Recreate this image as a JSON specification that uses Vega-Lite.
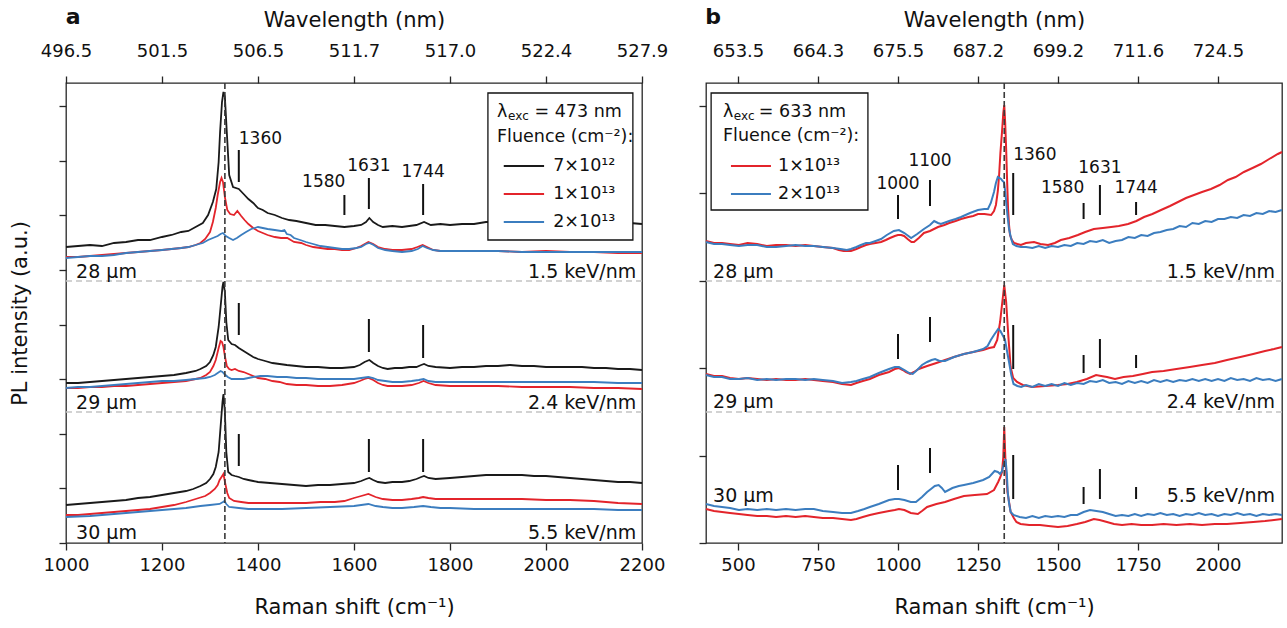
{
"$schema": "https://vega.github.io/schema/vega-lite/v6.json",
"padding": {"left": 8, "top": 5, "right": 6, "bottom": 5},
"background": "white",
"config": {
  "font": "'DejaVu Sans', sans-serif",
  "view": {"stroke": "#262626", "strokeWidth": 1.3},
  "axis": {"domain": false, "grid": false, "labelFlush": false, "labelOverlap": false, "tickColor": "#262626", "tickWidth": 1.3, "tickSize": 7, "labelFontSize": 18, "labelColor": "#111111", "titleFontSize": 21, "titleFontWeight": "normal", "titleColor": "#111111"}
},
"spacing": 64,
"bounds": "flush",
"datasets": {
"specA": [
{"c":"k","s":28,"x":1000,"y":296},{"c":"k","s":28,"x":1025,"y":297},{"c":"k","s":28,"x":1050,"y":298},{"c":"k","s":28,"x":1075,"y":297},{"c":"k","s":28,"x":1100,"y":300},{"c":"k","s":28,"x":1125,"y":301},{"c":"k","s":28,"x":1150,"y":303},{"c":"k","s":28,"x":1175,"y":303},{"c":"k","s":28,"x":1200,"y":306},{"c":"k","s":28,"x":1220,"y":308},{"c":"k","s":28,"x":1240,"y":311},{"c":"k","s":28,"x":1255,"y":312},{"c":"k","s":28,"x":1270,"y":316},{"c":"k","s":28,"x":1285,"y":320},{"c":"k","s":28,"x":1296,"y":328},{"c":"k","s":28,"x":1306,"y":341},{"c":"k","s":28,"x":1313,"y":354},{"c":"k","s":28,"x":1318,"y":381},{"c":"k","s":28,"x":1321,"y":411},{"c":"k","s":28,"x":1325,"y":441},{"c":"k","s":28,"x":1328,"y":451},{"c":"k","s":28,"x":1331,"y":446},{"c":"k","s":28,"x":1335,"y":411},{"c":"k","s":28,"x":1340,"y":368},{"c":"k","s":28,"x":1348,"y":356},{"c":"k","s":28,"x":1360,"y":354},{"c":"k","s":28,"x":1370,"y":349},{"c":"k","s":28,"x":1380,"y":344},{"c":"k","s":28,"x":1390,"y":340},{"c":"k","s":28,"x":1400,"y":335},{"c":"k","s":28,"x":1410,"y":333},{"c":"k","s":28,"x":1420,"y":330},{"c":"k","s":28,"x":1435,"y":328},{"c":"k","s":28,"x":1450,"y":325},{"c":"k","s":28,"x":1465,"y":323},{"c":"k","s":28,"x":1480,"y":322},{"c":"k","s":28,"x":1500,"y":320},{"c":"k","s":28,"x":1520,"y":318},{"c":"k","s":28,"x":1540,"y":318},{"c":"k","s":28,"x":1560,"y":317},{"c":"k","s":28,"x":1580,"y":316},{"c":"k","s":28,"x":1600,"y":317},{"c":"k","s":28,"x":1615,"y":318},{"c":"k","s":28,"x":1625,"y":321},{"c":"k","s":28,"x":1632,"y":325},{"c":"k","s":28,"x":1640,"y":321},{"c":"k","s":28,"x":1650,"y":318},{"c":"k","s":28,"x":1660,"y":316},{"c":"k","s":28,"x":1680,"y":317},{"c":"k","s":28,"x":1700,"y":316},{"c":"k","s":28,"x":1715,"y":317},{"c":"k","s":28,"x":1730,"y":318},{"c":"k","s":28,"x":1746,"y":321},{"c":"k","s":28,"x":1760,"y":318},{"c":"k","s":28,"x":1780,"y":319},{"c":"k","s":28,"x":1800,"y":318},{"c":"k","s":28,"x":1825,"y":319},{"c":"k","s":28,"x":1850,"y":319},{"c":"k","s":28,"x":1875,"y":321},{"c":"k","s":28,"x":1900,"y":321},{"c":"k","s":28,"x":1925,"y":322},{"c":"k","s":28,"x":1950,"y":322},{"c":"k","s":28,"x":1975,"y":321},{"c":"k","s":28,"x":2000,"y":321},{"c":"k","s":28,"x":2025,"y":320},{"c":"k","s":28,"x":2050,"y":320},{"c":"k","s":28,"x":2075,"y":321},{"c":"k","s":28,"x":2100,"y":320},{"c":"k","s":28,"x":2125,"y":319},{"c":"k","s":28,"x":2150,"y":319},{"c":"k","s":28,"x":2175,"y":320},{"c":"k","s":28,"x":2200,"y":319},
{"c":"k","s":29,"x":1000,"y":160},{"c":"k","s":29,"x":1025,"y":160},{"c":"k","s":29,"x":1050,"y":161},{"c":"k","s":29,"x":1075,"y":162},{"c":"k","s":29,"x":1100,"y":163},{"c":"k","s":29,"x":1125,"y":164},{"c":"k","s":29,"x":1150,"y":165},{"c":"k","s":29,"x":1175,"y":166},{"c":"k","s":29,"x":1200,"y":167},{"c":"k","s":29,"x":1225,"y":168},{"c":"k","s":29,"x":1250,"y":170},{"c":"k","s":29,"x":1270,"y":172},{"c":"k","s":29,"x":1280,"y":174},{"c":"k","s":29,"x":1292,"y":177},{"c":"k","s":29,"x":1300,"y":181},{"c":"k","s":29,"x":1307,"y":188},{"c":"k","s":29,"x":1312,"y":196},{"c":"k","s":29,"x":1318,"y":216},{"c":"k","s":29,"x":1322,"y":236},{"c":"k","s":29,"x":1326,"y":256},{"c":"k","s":29,"x":1328,"y":261},{"c":"k","s":29,"x":1331,"y":251},{"c":"k","s":29,"x":1334,"y":221},{"c":"k","s":29,"x":1338,"y":203},{"c":"k","s":29,"x":1345,"y":199},{"c":"k","s":29,"x":1352,"y":198},{"c":"k","s":29,"x":1360,"y":195},{"c":"k","s":29,"x":1370,"y":192},{"c":"k","s":29,"x":1380,"y":189},{"c":"k","s":29,"x":1390,"y":186},{"c":"k","s":29,"x":1400,"y":184},{"c":"k","s":29,"x":1415,"y":182},{"c":"k","s":29,"x":1430,"y":180},{"c":"k","s":29,"x":1445,"y":179},{"c":"k","s":29,"x":1460,"y":178},{"c":"k","s":29,"x":1480,"y":177},{"c":"k","s":29,"x":1500,"y":176},{"c":"k","s":29,"x":1525,"y":176},{"c":"k","s":29,"x":1550,"y":175},{"c":"k","s":29,"x":1575,"y":175},{"c":"k","s":29,"x":1600,"y":176},{"c":"k","s":29,"x":1612,"y":178},{"c":"k","s":29,"x":1622,"y":181},{"c":"k","s":29,"x":1632,"y":183},{"c":"k","s":29,"x":1640,"y":180},{"c":"k","s":29,"x":1650,"y":177},{"c":"k","s":29,"x":1660,"y":175},{"c":"k","s":29,"x":1670,"y":174},{"c":"k","s":29,"x":1685,"y":175},{"c":"k","s":29,"x":1700,"y":175},{"c":"k","s":29,"x":1715,"y":176},{"c":"k","s":29,"x":1730,"y":176},{"c":"k","s":29,"x":1740,"y":178},{"c":"k","s":29,"x":1746,"y":179},{"c":"k","s":29,"x":1755,"y":177},{"c":"k","s":29,"x":1770,"y":176},{"c":"k","s":29,"x":1800,"y":175},{"c":"k","s":29,"x":1825,"y":176},{"c":"k","s":29,"x":1850,"y":176},{"c":"k","s":29,"x":1875,"y":177},{"c":"k","s":29,"x":1900,"y":177},{"c":"k","s":29,"x":1925,"y":178},{"c":"k","s":29,"x":1950,"y":177},{"c":"k","s":29,"x":1975,"y":177},{"c":"k","s":29,"x":2000,"y":176},{"c":"k","s":29,"x":2025,"y":176},{"c":"k","s":29,"x":2050,"y":176},{"c":"k","s":29,"x":2075,"y":176},{"c":"k","s":29,"x":2100,"y":175},{"c":"k","s":29,"x":2125,"y":175},{"c":"k","s":29,"x":2150,"y":174},{"c":"k","s":29,"x":2175,"y":174},{"c":"k","s":29,"x":2200,"y":173},
{"c":"k","s":30,"x":1000,"y":38},{"c":"k","s":30,"x":1025,"y":39},{"c":"k","s":30,"x":1050,"y":40},{"c":"k","s":30,"x":1075,"y":41},{"c":"k","s":30,"x":1100,"y":42},{"c":"k","s":30,"x":1125,"y":43},{"c":"k","s":30,"x":1150,"y":45},{"c":"k","s":30,"x":1175,"y":46},{"c":"k","s":30,"x":1200,"y":48},{"c":"k","s":30,"x":1225,"y":50},{"c":"k","s":30,"x":1250,"y":52},{"c":"k","s":30,"x":1265,"y":54},{"c":"k","s":30,"x":1280,"y":57},{"c":"k","s":30,"x":1292,"y":60},{"c":"k","s":30,"x":1300,"y":64},{"c":"k","s":30,"x":1307,"y":69},{"c":"k","s":30,"x":1312,"y":76},{"c":"k","s":30,"x":1318,"y":91},{"c":"k","s":30,"x":1322,"y":116},{"c":"k","s":30,"x":1326,"y":141},{"c":"k","s":30,"x":1328,"y":149},{"c":"k","s":30,"x":1331,"y":131},{"c":"k","s":30,"x":1334,"y":91},{"c":"k","s":30,"x":1338,"y":71},{"c":"k","s":30,"x":1345,"y":68},{"c":"k","s":30,"x":1352,"y":67},{"c":"k","s":30,"x":1360,"y":66},{"c":"k","s":30,"x":1370,"y":64},{"c":"k","s":30,"x":1380,"y":63},{"c":"k","s":30,"x":1390,"y":62},{"c":"k","s":30,"x":1400,"y":61},{"c":"k","s":30,"x":1425,"y":60},{"c":"k","s":30,"x":1450,"y":59},{"c":"k","s":30,"x":1475,"y":58},{"c":"k","s":30,"x":1500,"y":57},{"c":"k","s":30,"x":1525,"y":58},{"c":"k","s":30,"x":1550,"y":58},{"c":"k","s":30,"x":1575,"y":59},{"c":"k","s":30,"x":1600,"y":60},{"c":"k","s":30,"x":1615,"y":62},{"c":"k","s":30,"x":1625,"y":64},{"c":"k","s":30,"x":1632,"y":65},{"c":"k","s":30,"x":1640,"y":63},{"c":"k","s":30,"x":1650,"y":61},{"c":"k","s":30,"x":1665,"y":60},{"c":"k","s":30,"x":1680,"y":61},{"c":"k","s":30,"x":1700,"y":61},{"c":"k","s":30,"x":1715,"y":62},{"c":"k","s":30,"x":1730,"y":64},{"c":"k","s":30,"x":1740,"y":66},{"c":"k","s":30,"x":1746,"y":67},{"c":"k","s":30,"x":1755,"y":65},{"c":"k","s":30,"x":1770,"y":64},{"c":"k","s":30,"x":1800,"y":65},{"c":"k","s":30,"x":1825,"y":66},{"c":"k","s":30,"x":1850,"y":67},{"c":"k","s":30,"x":1875,"y":68},{"c":"k","s":30,"x":1900,"y":68},{"c":"k","s":30,"x":1925,"y":68},{"c":"k","s":30,"x":1950,"y":68},{"c":"k","s":30,"x":1975,"y":67},{"c":"k","s":30,"x":2000,"y":67},{"c":"k","s":30,"x":2025,"y":66},{"c":"k","s":30,"x":2050,"y":65},{"c":"k","s":30,"x":2075,"y":64},{"c":"k","s":30,"x":2100,"y":63},{"c":"k","s":30,"x":2125,"y":62},{"c":"k","s":30,"x":2150,"y":61},{"c":"k","s":30,"x":2175,"y":61},{"c":"k","s":30,"x":2200,"y":60},
{"c":"r","s":28,"x":1000,"y":286},{"c":"r","s":28,"x":1025,"y":286},{"c":"r","s":28,"x":1050,"y":287},{"c":"r","s":28,"x":1075,"y":288},{"c":"r","s":28,"x":1100,"y":289},{"c":"r","s":28,"x":1125,"y":290},{"c":"r","s":28,"x":1150,"y":291},{"c":"r","s":28,"x":1175,"y":292},{"c":"r","s":28,"x":1200,"y":293},{"c":"r","s":28,"x":1220,"y":294},{"c":"r","s":28,"x":1240,"y":295},{"c":"r","s":28,"x":1255,"y":296},{"c":"r","s":28,"x":1270,"y":298},{"c":"r","s":28,"x":1280,"y":300},{"c":"r","s":28,"x":1290,"y":304},{"c":"r","s":28,"x":1300,"y":311},{"c":"r","s":28,"x":1306,"y":321},{"c":"r","s":28,"x":1312,"y":335},{"c":"r","s":28,"x":1316,"y":348},{"c":"r","s":28,"x":1321,"y":361},{"c":"r","s":28,"x":1324,"y":365},{"c":"r","s":28,"x":1327,"y":361},{"c":"r","s":28,"x":1331,"y":346},{"c":"r","s":28,"x":1336,"y":333},{"c":"r","s":28,"x":1342,"y":329},{"c":"r","s":28,"x":1350,"y":328},{"c":"r","s":28,"x":1357,"y":332},{"c":"r","s":28,"x":1365,"y":327},{"c":"r","s":28,"x":1372,"y":323},{"c":"r","s":28,"x":1380,"y":319},{"c":"r","s":28,"x":1390,"y":315},{"c":"r","s":28,"x":1400,"y":312},{"c":"r","s":28,"x":1410,"y":310},{"c":"r","s":28,"x":1420,"y":308},{"c":"r","s":28,"x":1435,"y":306},{"c":"r","s":28,"x":1448,"y":305},{"c":"r","s":28,"x":1461,"y":305},{"c":"r","s":28,"x":1475,"y":301},{"c":"r","s":28,"x":1490,"y":300},{"c":"r","s":28,"x":1500,"y":298},{"c":"r","s":28,"x":1515,"y":296},{"c":"r","s":28,"x":1530,"y":295},{"c":"r","s":28,"x":1545,"y":294},{"c":"r","s":28,"x":1560,"y":294},{"c":"r","s":28,"x":1575,"y":293},{"c":"r","s":28,"x":1590,"y":293},{"c":"r","s":28,"x":1605,"y":295},{"c":"r","s":28,"x":1615,"y":297},{"c":"r","s":28,"x":1630,"y":301},{"c":"r","s":28,"x":1640,"y":299},{"c":"r","s":28,"x":1650,"y":296},{"c":"r","s":28,"x":1665,"y":294},{"c":"r","s":28,"x":1680,"y":293},{"c":"r","s":28,"x":1700,"y":293},{"c":"r","s":28,"x":1720,"y":294},{"c":"r","s":28,"x":1732,"y":296},{"c":"r","s":28,"x":1743,"y":298},{"c":"r","s":28,"x":1752,"y":296},{"c":"r","s":28,"x":1765,"y":293},{"c":"r","s":28,"x":1780,"y":292},{"c":"r","s":28,"x":1800,"y":292},{"c":"r","s":28,"x":1850,"y":292},{"c":"r","s":28,"x":1900,"y":292},{"c":"r","s":28,"x":1950,"y":291},{"c":"r","s":28,"x":2000,"y":292},{"c":"r","s":28,"x":2050,"y":291},{"c":"r","s":28,"x":2100,"y":291},{"c":"r","s":28,"x":2150,"y":290},{"c":"r","s":28,"x":2200,"y":290},
{"c":"r","s":29,"x":1000,"y":155},{"c":"r","s":29,"x":1025,"y":155},{"c":"r","s":29,"x":1050,"y":156},{"c":"r","s":29,"x":1075,"y":156},{"c":"r","s":29,"x":1100,"y":157},{"c":"r","s":29,"x":1125,"y":157},{"c":"r","s":29,"x":1150,"y":158},{"c":"r","s":29,"x":1175,"y":159},{"c":"r","s":29,"x":1200,"y":160},{"c":"r","s":29,"x":1225,"y":161},{"c":"r","s":29,"x":1250,"y":162},{"c":"r","s":29,"x":1270,"y":164},{"c":"r","s":29,"x":1280,"y":165},{"c":"r","s":29,"x":1292,"y":168},{"c":"r","s":29,"x":1300,"y":171},{"c":"r","s":29,"x":1307,"y":177},{"c":"r","s":29,"x":1312,"y":183},{"c":"r","s":29,"x":1318,"y":195},{"c":"r","s":29,"x":1322,"y":202},{"c":"r","s":29,"x":1325,"y":201},{"c":"r","s":29,"x":1328,"y":196},{"c":"r","s":29,"x":1331,"y":187},{"c":"r","s":29,"x":1335,"y":177},{"c":"r","s":29,"x":1340,"y":174},{"c":"r","s":29,"x":1345,"y":173},{"c":"r","s":29,"x":1352,"y":174},{"c":"r","s":29,"x":1360,"y":172},{"c":"r","s":29,"x":1370,"y":171},{"c":"r","s":29,"x":1380,"y":169},{"c":"r","s":29,"x":1390,"y":167},{"c":"r","s":29,"x":1400,"y":165},{"c":"r","s":29,"x":1415,"y":164},{"c":"r","s":29,"x":1430,"y":162},{"c":"r","s":29,"x":1445,"y":161},{"c":"r","s":29,"x":1460,"y":159},{"c":"r","s":29,"x":1480,"y":158},{"c":"r","s":29,"x":1500,"y":158},{"c":"r","s":29,"x":1525,"y":157},{"c":"r","s":29,"x":1550,"y":157},{"c":"r","s":29,"x":1575,"y":158},{"c":"r","s":29,"x":1600,"y":160},{"c":"r","s":29,"x":1612,"y":162},{"c":"r","s":29,"x":1622,"y":164},{"c":"r","s":29,"x":1630,"y":165},{"c":"r","s":29,"x":1640,"y":163},{"c":"r","s":29,"x":1650,"y":160},{"c":"r","s":29,"x":1660,"y":158},{"c":"r","s":29,"x":1670,"y":157},{"c":"r","s":29,"x":1685,"y":157},{"c":"r","s":29,"x":1700,"y":157},{"c":"r","s":29,"x":1720,"y":158},{"c":"r","s":29,"x":1735,"y":160},{"c":"r","s":29,"x":1745,"y":162},{"c":"r","s":29,"x":1755,"y":160},{"c":"r","s":29,"x":1770,"y":158},{"c":"r","s":29,"x":1800,"y":157},{"c":"r","s":29,"x":1850,"y":157},{"c":"r","s":29,"x":1900,"y":157},{"c":"r","s":29,"x":1950,"y":156},{"c":"r","s":29,"x":2000,"y":156},{"c":"r","s":29,"x":2050,"y":156},{"c":"r","s":29,"x":2100,"y":155},{"c":"r","s":29,"x":2150,"y":155},{"c":"r","s":29,"x":2200,"y":154},
{"c":"r","s":30,"x":1000,"y":28},{"c":"r","s":30,"x":1025,"y":28},{"c":"r","s":30,"x":1050,"y":29},{"c":"r","s":30,"x":1075,"y":30},{"c":"r","s":30,"x":1100,"y":31},{"c":"r","s":30,"x":1125,"y":32},{"c":"r","s":30,"x":1150,"y":33},{"c":"r","s":30,"x":1175,"y":34},{"c":"r","s":30,"x":1200,"y":36},{"c":"r","s":30,"x":1225,"y":38},{"c":"r","s":30,"x":1250,"y":41},{"c":"r","s":30,"x":1270,"y":44},{"c":"r","s":30,"x":1290,"y":47},{"c":"r","s":30,"x":1300,"y":50},{"c":"r","s":30,"x":1310,"y":54},{"c":"r","s":30,"x":1316,"y":58},{"c":"r","s":30,"x":1320,"y":63},{"c":"r","s":30,"x":1324,"y":66},{"c":"r","s":30,"x":1328,"y":69},{"c":"r","s":30,"x":1332,"y":59},{"c":"r","s":30,"x":1336,"y":50},{"c":"r","s":30,"x":1340,"y":45},{"c":"r","s":30,"x":1350,"y":42},{"c":"r","s":30,"x":1365,"y":41},{"c":"r","s":30,"x":1380,"y":40},{"c":"r","s":30,"x":1400,"y":40},{"c":"r","s":30,"x":1425,"y":40},{"c":"r","s":30,"x":1450,"y":40},{"c":"r","s":30,"x":1475,"y":40},{"c":"r","s":30,"x":1500,"y":40},{"c":"r","s":30,"x":1530,"y":41},{"c":"r","s":30,"x":1560,"y":41},{"c":"r","s":30,"x":1580,"y":42},{"c":"r","s":30,"x":1600,"y":45},{"c":"r","s":30,"x":1615,"y":47},{"c":"r","s":30,"x":1630,"y":49},{"c":"r","s":30,"x":1645,"y":46},{"c":"r","s":30,"x":1660,"y":44},{"c":"r","s":30,"x":1680,"y":43},{"c":"r","s":30,"x":1700,"y":43},{"c":"r","s":30,"x":1720,"y":44},{"c":"r","s":30,"x":1735,"y":45},{"c":"r","s":30,"x":1744,"y":46},{"c":"r","s":30,"x":1755,"y":45},{"c":"r","s":30,"x":1770,"y":44},{"c":"r","s":30,"x":1800,"y":44},{"c":"r","s":30,"x":1850,"y":44},{"c":"r","s":30,"x":1900,"y":44},{"c":"r","s":30,"x":1950,"y":44},{"c":"r","s":30,"x":2000,"y":43},{"c":"r","s":30,"x":2050,"y":43},{"c":"r","s":30,"x":2100,"y":42},{"c":"r","s":30,"x":2150,"y":40},{"c":"r","s":30,"x":2200,"y":39},
{"c":"b","s":28,"x":1000,"y":285},{"c":"b","s":28,"x":1025,"y":286},{"c":"b","s":28,"x":1050,"y":287},{"c":"b","s":28,"x":1075,"y":287},{"c":"b","s":28,"x":1100,"y":288},{"c":"b","s":28,"x":1125,"y":290},{"c":"b","s":28,"x":1150,"y":291},{"c":"b","s":28,"x":1175,"y":292},{"c":"b","s":28,"x":1200,"y":293},{"c":"b","s":28,"x":1220,"y":294},{"c":"b","s":28,"x":1240,"y":295},{"c":"b","s":28,"x":1255,"y":296},{"c":"b","s":28,"x":1270,"y":298},{"c":"b","s":28,"x":1285,"y":300},{"c":"b","s":28,"x":1296,"y":303},{"c":"b","s":28,"x":1306,"y":305},{"c":"b","s":28,"x":1316,"y":307},{"c":"b","s":28,"x":1322,"y":309},{"c":"b","s":28,"x":1327,"y":310},{"c":"b","s":28,"x":1333,"y":307},{"c":"b","s":28,"x":1340,"y":305},{"c":"b","s":28,"x":1348,"y":303},{"c":"b","s":28,"x":1356,"y":305},{"c":"b","s":28,"x":1365,"y":308},{"c":"b","s":28,"x":1375,"y":311},{"c":"b","s":28,"x":1386,"y":314},{"c":"b","s":28,"x":1393,"y":315},{"c":"b","s":28,"x":1400,"y":316},{"c":"b","s":28,"x":1410,"y":315},{"c":"b","s":28,"x":1420,"y":314},{"c":"b","s":28,"x":1435,"y":313},{"c":"b","s":28,"x":1448,"y":312},{"c":"b","s":28,"x":1455,"y":313},{"c":"b","s":28,"x":1460,"y":309},{"c":"b","s":28,"x":1468,"y":308},{"c":"b","s":28,"x":1475,"y":305},{"c":"b","s":28,"x":1488,"y":303},{"c":"b","s":28,"x":1500,"y":301},{"c":"b","s":28,"x":1515,"y":299},{"c":"b","s":28,"x":1530,"y":297},{"c":"b","s":28,"x":1545,"y":296},{"c":"b","s":28,"x":1560,"y":295},{"c":"b","s":28,"x":1575,"y":294},{"c":"b","s":28,"x":1590,"y":294},{"c":"b","s":28,"x":1605,"y":295},{"c":"b","s":28,"x":1615,"y":296},{"c":"b","s":28,"x":1625,"y":299},{"c":"b","s":28,"x":1632,"y":300},{"c":"b","s":28,"x":1641,"y":298},{"c":"b","s":28,"x":1650,"y":295},{"c":"b","s":28,"x":1665,"y":293},{"c":"b","s":28,"x":1680,"y":292},{"c":"b","s":28,"x":1700,"y":291},{"c":"b","s":28,"x":1720,"y":292},{"c":"b","s":28,"x":1733,"y":294},{"c":"b","s":28,"x":1743,"y":297},{"c":"b","s":28,"x":1752,"y":295},{"c":"b","s":28,"x":1765,"y":293},{"c":"b","s":28,"x":1780,"y":292},{"c":"b","s":28,"x":1800,"y":292},{"c":"b","s":28,"x":1850,"y":292},{"c":"b","s":28,"x":1900,"y":292},{"c":"b","s":28,"x":1950,"y":291},{"c":"b","s":28,"x":2000,"y":291},{"c":"b","s":28,"x":2050,"y":291},{"c":"b","s":28,"x":2100,"y":291},{"c":"b","s":28,"x":2150,"y":291},{"c":"b","s":28,"x":2200,"y":291},
{"c":"b","s":29,"x":1000,"y":155},{"c":"b","s":29,"x":1025,"y":156},{"c":"b","s":29,"x":1050,"y":156},{"c":"b","s":29,"x":1075,"y":157},{"c":"b","s":29,"x":1100,"y":158},{"c":"b","s":29,"x":1125,"y":159},{"c":"b","s":29,"x":1150,"y":160},{"c":"b","s":29,"x":1175,"y":161},{"c":"b","s":29,"x":1200,"y":162},{"c":"b","s":29,"x":1225,"y":162},{"c":"b","s":29,"x":1250,"y":163},{"c":"b","s":29,"x":1270,"y":164},{"c":"b","s":29,"x":1290,"y":165},{"c":"b","s":29,"x":1300,"y":166},{"c":"b","s":29,"x":1310,"y":168},{"c":"b","s":29,"x":1316,"y":170},{"c":"b","s":29,"x":1322,"y":172},{"c":"b","s":29,"x":1326,"y":171},{"c":"b","s":29,"x":1330,"y":169},{"c":"b","s":29,"x":1337,"y":166},{"c":"b","s":29,"x":1345,"y":164},{"c":"b","s":29,"x":1355,"y":164},{"c":"b","s":29,"x":1370,"y":164},{"c":"b","s":29,"x":1380,"y":165},{"c":"b","s":29,"x":1390,"y":166},{"c":"b","s":29,"x":1405,"y":167},{"c":"b","s":29,"x":1420,"y":167},{"c":"b","s":29,"x":1440,"y":166},{"c":"b","s":29,"x":1460,"y":166},{"c":"b","s":29,"x":1480,"y":165},{"c":"b","s":29,"x":1500,"y":165},{"c":"b","s":29,"x":1525,"y":164},{"c":"b","s":29,"x":1550,"y":164},{"c":"b","s":29,"x":1575,"y":164},{"c":"b","s":29,"x":1600,"y":164},{"c":"b","s":29,"x":1615,"y":165},{"c":"b","s":29,"x":1630,"y":166},{"c":"b","s":29,"x":1640,"y":165},{"c":"b","s":29,"x":1650,"y":163},{"c":"b","s":29,"x":1665,"y":162},{"c":"b","s":29,"x":1680,"y":161},{"c":"b","s":29,"x":1700,"y":161},{"c":"b","s":29,"x":1720,"y":162},{"c":"b","s":29,"x":1735,"y":163},{"c":"b","s":29,"x":1745,"y":164},{"c":"b","s":29,"x":1755,"y":162},{"c":"b","s":29,"x":1770,"y":161},{"c":"b","s":29,"x":1800,"y":161},{"c":"b","s":29,"x":1850,"y":161},{"c":"b","s":29,"x":1900,"y":161},{"c":"b","s":29,"x":1950,"y":161},{"c":"b","s":29,"x":2000,"y":161},{"c":"b","s":29,"x":2050,"y":161},{"c":"b","s":29,"x":2100,"y":161},{"c":"b","s":29,"x":2150,"y":160},{"c":"b","s":29,"x":2200,"y":160},
{"c":"b","s":30,"x":1000,"y":26},{"c":"b","s":30,"x":1050,"y":27},{"c":"b","s":30,"x":1100,"y":29},{"c":"b","s":30,"x":1150,"y":31},{"c":"b","s":30,"x":1200,"y":33},{"c":"b","s":30,"x":1250,"y":35},{"c":"b","s":30,"x":1280,"y":37},{"c":"b","s":30,"x":1300,"y":38},{"c":"b","s":30,"x":1320,"y":39},{"c":"b","s":30,"x":1327,"y":41},{"c":"b","s":30,"x":1330,"y":42},{"c":"b","s":30,"x":1334,"y":39},{"c":"b","s":30,"x":1340,"y":36},{"c":"b","s":30,"x":1360,"y":35},{"c":"b","s":30,"x":1380,"y":34},{"c":"b","s":30,"x":1400,"y":34},{"c":"b","s":30,"x":1450,"y":34},{"c":"b","s":30,"x":1500,"y":35},{"c":"b","s":30,"x":1550,"y":36},{"c":"b","s":30,"x":1600,"y":37},{"c":"b","s":30,"x":1615,"y":38},{"c":"b","s":30,"x":1630,"y":39},{"c":"b","s":30,"x":1645,"y":37},{"c":"b","s":30,"x":1660,"y":36},{"c":"b","s":30,"x":1680,"y":35},{"c":"b","s":30,"x":1700,"y":35},{"c":"b","s":30,"x":1725,"y":36},{"c":"b","s":30,"x":1744,"y":37},{"c":"b","s":30,"x":1760,"y":36},{"c":"b","s":30,"x":1780,"y":35},{"c":"b","s":30,"x":1800,"y":35},{"c":"b","s":30,"x":1850,"y":34},{"c":"b","s":30,"x":1900,"y":34},{"c":"b","s":30,"x":1950,"y":34},{"c":"b","s":30,"x":2000,"y":34},{"c":"b","s":30,"x":2050,"y":34},{"c":"b","s":30,"x":2100,"y":34},{"c":"b","s":30,"x":2150,"y":33},{"c":"b","s":30,"x":2200,"y":33}
],
"specB": [
{"c":"r","s":28,"x":400,"y":302},{"c":"r","s":28,"x":425,"y":300},{"c":"r","s":28,"x":450,"y":300},{"c":"r","s":28,"x":475,"y":299},{"c":"r","s":28,"x":503,"y":298},{"c":"r","s":28,"x":530,"y":300},{"c":"r","s":28,"x":560,"y":299},{"c":"r","s":28,"x":590,"y":297},{"c":"r","s":28,"x":619,"y":298},{"c":"r","s":28,"x":650,"y":298},{"c":"r","s":28,"x":680,"y":297},{"c":"r","s":28,"x":710,"y":298},{"c":"r","s":28,"x":737,"y":297},{"c":"r","s":28,"x":765,"y":296},{"c":"r","s":28,"x":797,"y":295},{"c":"r","s":28,"x":815,"y":293},{"c":"r","s":28,"x":830,"y":292},{"c":"r","s":28,"x":853,"y":292},{"c":"r","s":28,"x":870,"y":294},{"c":"r","s":28,"x":884,"y":296},{"c":"r","s":28,"x":900,"y":298},{"c":"r","s":28,"x":912,"y":299},{"c":"r","s":28,"x":930,"y":300},{"c":"r","s":28,"x":947,"y":301},{"c":"r","s":28,"x":962,"y":303},{"c":"r","s":28,"x":975,"y":305},{"c":"r","s":28,"x":990,"y":307},{"c":"r","s":28,"x":1000,"y":308},{"c":"r","s":28,"x":1010,"y":308},{"c":"r","s":28,"x":1019,"y":307},{"c":"r","s":28,"x":1030,"y":304},{"c":"r","s":28,"x":1042,"y":301},{"c":"r","s":28,"x":1050,"y":301},{"c":"r","s":28,"x":1065,"y":305},{"c":"r","s":28,"x":1081,"y":310},{"c":"r","s":28,"x":1100,"y":312},{"c":"r","s":28,"x":1125,"y":316},{"c":"r","s":28,"x":1145,"y":318},{"c":"r","s":28,"x":1160,"y":320},{"c":"r","s":28,"x":1180,"y":322},{"c":"r","s":28,"x":1197,"y":324},{"c":"r","s":28,"x":1220,"y":326},{"c":"r","s":28,"x":1235,"y":327},{"c":"r","s":28,"x":1250,"y":329},{"c":"r","s":28,"x":1270,"y":329},{"c":"r","s":28,"x":1291,"y":328},{"c":"r","s":28,"x":1300,"y":332},{"c":"r","s":28,"x":1306,"y":338},{"c":"r","s":28,"x":1312,"y":352},{"c":"r","s":28,"x":1316,"y":368},{"c":"r","s":28,"x":1320,"y":390},{"c":"r","s":28,"x":1325,"y":411},{"c":"r","s":28,"x":1329,"y":430},{"c":"r","s":28,"x":1332,"y":438},{"c":"r","s":28,"x":1335,"y":420},{"c":"r","s":28,"x":1338,"y":394},{"c":"r","s":28,"x":1341,"y":362},{"c":"r","s":28,"x":1344,"y":334},{"c":"r","s":28,"x":1347,"y":318},{"c":"r","s":28,"x":1350,"y":308},{"c":"r","s":28,"x":1356,"y":303},{"c":"r","s":28,"x":1363,"y":300},{"c":"r","s":28,"x":1373,"y":299},{"c":"r","s":28,"x":1384,"y":298},{"c":"r","s":28,"x":1400,"y":300},{"c":"r","s":28,"x":1425,"y":301},{"c":"r","s":28,"x":1445,"y":299},{"c":"r","s":28,"x":1469,"y":298},{"c":"r","s":28,"x":1490,"y":300},{"c":"r","s":28,"x":1509,"y":303},{"c":"r","s":28,"x":1535,"y":305},{"c":"r","s":28,"x":1562,"y":308},{"c":"r","s":28,"x":1585,"y":311},{"c":"r","s":28,"x":1612,"y":314},{"c":"r","s":28,"x":1640,"y":315},{"c":"r","s":28,"x":1666,"y":316},{"c":"r","s":28,"x":1690,"y":317},{"c":"r","s":28,"x":1719,"y":319},{"c":"r","s":28,"x":1745,"y":322},{"c":"r","s":28,"x":1769,"y":326},{"c":"r","s":28,"x":1795,"y":329},{"c":"r","s":28,"x":1822,"y":333},{"c":"r","s":28,"x":1850,"y":337},{"c":"r","s":28,"x":1875,"y":341},{"c":"r","s":28,"x":1900,"y":345},{"c":"r","s":28,"x":1925,"y":348},{"c":"r","s":28,"x":1950,"y":351},{"c":"r","s":28,"x":1978,"y":354},{"c":"r","s":28,"x":2005,"y":358},{"c":"r","s":28,"x":2031,"y":363},{"c":"r","s":28,"x":2055,"y":366},{"c":"r","s":28,"x":2081,"y":371},{"c":"r","s":28,"x":2108,"y":375},{"c":"r","s":28,"x":2134,"y":379},{"c":"r","s":28,"x":2160,"y":384},{"c":"r","s":28,"x":2187,"y":389},{"c":"r","s":28,"x":2200,"y":391},
{"c":"r","s":29,"x":400,"y":169},{"c":"r","s":29,"x":425,"y":167},{"c":"r","s":29,"x":450,"y":167},{"c":"r","s":29,"x":475,"y":165},{"c":"r","s":29,"x":503,"y":164},{"c":"r","s":29,"x":530,"y":165},{"c":"r","s":29,"x":560,"y":164},{"c":"r","s":29,"x":590,"y":163},{"c":"r","s":29,"x":619,"y":164},{"c":"r","s":29,"x":650,"y":163},{"c":"r","s":29,"x":680,"y":163},{"c":"r","s":29,"x":710,"y":164},{"c":"r","s":29,"x":737,"y":163},{"c":"r","s":29,"x":765,"y":162},{"c":"r","s":29,"x":797,"y":161},{"c":"r","s":29,"x":825,"y":159},{"c":"r","s":29,"x":853,"y":158},{"c":"r","s":29,"x":870,"y":160},{"c":"r","s":29,"x":890,"y":162},{"c":"r","s":29,"x":912,"y":164},{"c":"r","s":29,"x":940,"y":168},{"c":"r","s":29,"x":972,"y":171},{"c":"r","s":29,"x":990,"y":174},{"c":"r","s":29,"x":1003,"y":175},{"c":"r","s":29,"x":1015,"y":173},{"c":"r","s":29,"x":1025,"y":171},{"c":"r","s":29,"x":1038,"y":169},{"c":"r","s":29,"x":1050,"y":171},{"c":"r","s":29,"x":1065,"y":174},{"c":"r","s":29,"x":1091,"y":177},{"c":"r","s":29,"x":1120,"y":180},{"c":"r","s":29,"x":1147,"y":183},{"c":"r","s":29,"x":1175,"y":186},{"c":"r","s":29,"x":1206,"y":189},{"c":"r","s":29,"x":1235,"y":191},{"c":"r","s":29,"x":1266,"y":193},{"c":"r","s":29,"x":1285,"y":195},{"c":"r","s":29,"x":1300,"y":196},{"c":"r","s":29,"x":1310,"y":203},{"c":"r","s":29,"x":1319,"y":221},{"c":"r","s":29,"x":1326,"y":241},{"c":"r","s":29,"x":1332,"y":258},{"c":"r","s":29,"x":1338,"y":241},{"c":"r","s":29,"x":1345,"y":206},{"c":"r","s":29,"x":1352,"y":176},{"c":"r","s":29,"x":1360,"y":165},{"c":"r","s":29,"x":1372,"y":161},{"c":"r","s":29,"x":1390,"y":158},{"c":"r","s":29,"x":1419,"y":156},{"c":"r","s":29,"x":1460,"y":157},{"c":"r","s":29,"x":1500,"y":158},{"c":"r","s":29,"x":1530,"y":159},{"c":"r","s":29,"x":1559,"y":161},{"c":"r","s":29,"x":1590,"y":164},{"c":"r","s":29,"x":1619,"y":168},{"c":"r","s":29,"x":1635,"y":167},{"c":"r","s":29,"x":1653,"y":166},{"c":"r","s":29,"x":1678,"y":164},{"c":"r","s":29,"x":1705,"y":166},{"c":"r","s":29,"x":1734,"y":167},{"c":"r","s":29,"x":1765,"y":169},{"c":"r","s":29,"x":1794,"y":171},{"c":"r","s":29,"x":1830,"y":172},{"c":"r","s":29,"x":1870,"y":174},{"c":"r","s":29,"x":1912,"y":176},{"c":"r","s":29,"x":1950,"y":178},{"c":"r","s":29,"x":1990,"y":180},{"c":"r","s":29,"x":2028,"y":183},{"c":"r","s":29,"x":2070,"y":186},{"c":"r","s":29,"x":2110,"y":189},{"c":"r","s":29,"x":2147,"y":192},{"c":"r","s":29,"x":2175,"y":194},{"c":"r","s":29,"x":2200,"y":196},
{"c":"r","s":30,"x":400,"y":34},{"c":"r","s":30,"x":425,"y":32},{"c":"r","s":30,"x":450,"y":31},{"c":"r","s":30,"x":475,"y":30},{"c":"r","s":30,"x":503,"y":29},{"c":"r","s":30,"x":530,"y":28},{"c":"r","s":30,"x":560,"y":27},{"c":"r","s":30,"x":590,"y":27},{"c":"r","s":30,"x":619,"y":26},{"c":"r","s":30,"x":650,"y":27},{"c":"r","s":30,"x":680,"y":26},{"c":"r","s":30,"x":710,"y":27},{"c":"r","s":30,"x":737,"y":26},{"c":"r","s":30,"x":765,"y":25},{"c":"r","s":30,"x":797,"y":25},{"c":"r","s":30,"x":825,"y":24},{"c":"r","s":30,"x":853,"y":23},{"c":"r","s":30,"x":870,"y":24},{"c":"r","s":30,"x":890,"y":26},{"c":"r","s":30,"x":912,"y":28},{"c":"r","s":30,"x":940,"y":30},{"c":"r","s":30,"x":972,"y":32},{"c":"r","s":30,"x":990,"y":33},{"c":"r","s":30,"x":1003,"y":34},{"c":"r","s":30,"x":1020,"y":33},{"c":"r","s":30,"x":1040,"y":30},{"c":"r","s":30,"x":1062,"y":29},{"c":"r","s":30,"x":1075,"y":32},{"c":"r","s":30,"x":1091,"y":36},{"c":"r","s":30,"x":1120,"y":39},{"c":"r","s":30,"x":1147,"y":41},{"c":"r","s":30,"x":1175,"y":44},{"c":"r","s":30,"x":1206,"y":47},{"c":"r","s":30,"x":1240,"y":48},{"c":"r","s":30,"x":1278,"y":49},{"c":"r","s":30,"x":1300,"y":53},{"c":"r","s":30,"x":1313,"y":61},{"c":"r","s":30,"x":1320,"y":66},{"c":"r","s":30,"x":1325,"y":71},{"c":"r","s":30,"x":1329,"y":86},{"c":"r","s":30,"x":1332,"y":116},{"c":"r","s":30,"x":1336,"y":81},{"c":"r","s":30,"x":1342,"y":51},{"c":"r","s":30,"x":1352,"y":31},{"c":"r","s":30,"x":1362,"y":25},{"c":"r","s":30,"x":1370,"y":21},{"c":"r","s":30,"x":1383,"y":19},{"c":"r","s":30,"x":1410,"y":18},{"c":"r","s":30,"x":1444,"y":18},{"c":"r","s":30,"x":1470,"y":17},{"c":"r","s":30,"x":1500,"y":16},{"c":"r","s":30,"x":1530,"y":17},{"c":"r","s":30,"x":1559,"y":19},{"c":"r","s":30,"x":1585,"y":21},{"c":"r","s":30,"x":1612,"y":24},{"c":"r","s":30,"x":1630,"y":23},{"c":"r","s":30,"x":1653,"y":21},{"c":"r","s":30,"x":1675,"y":19},{"c":"r","s":30,"x":1700,"y":18},{"c":"r","s":30,"x":1730,"y":19},{"c":"r","s":30,"x":1760,"y":18},{"c":"r","s":30,"x":1794,"y":18},{"c":"r","s":30,"x":1830,"y":19},{"c":"r","s":30,"x":1870,"y":18},{"c":"r","s":30,"x":1912,"y":19},{"c":"r","s":30,"x":1950,"y":18},{"c":"r","s":30,"x":1990,"y":19},{"c":"r","s":30,"x":2028,"y":19},{"c":"r","s":30,"x":2070,"y":20},{"c":"r","s":30,"x":2110,"y":21},{"c":"r","s":30,"x":2147,"y":22},{"c":"r","s":30,"x":2175,"y":23},{"c":"r","s":30,"x":2200,"y":24},
{"c":"b","s":28,"x":400,"y":301},{"c":"b","s":28,"x":425,"y":299},{"c":"b","s":28,"x":450,"y":299},{"c":"b","s":28,"x":475,"y":298},{"c":"b","s":28,"x":503,"y":297},{"c":"b","s":28,"x":530,"y":298},{"c":"b","s":28,"x":560,"y":298},{"c":"b","s":28,"x":590,"y":296},{"c":"b","s":28,"x":619,"y":296},{"c":"b","s":28,"x":650,"y":297},{"c":"b","s":28,"x":680,"y":298},{"c":"b","s":28,"x":710,"y":297},{"c":"b","s":28,"x":737,"y":297},{"c":"b","s":28,"x":765,"y":296},{"c":"b","s":28,"x":797,"y":295},{"c":"b","s":28,"x":820,"y":294},{"c":"b","s":28,"x":840,"y":293},{"c":"b","s":28,"x":853,"y":294},{"c":"b","s":28,"x":870,"y":296},{"c":"b","s":28,"x":884,"y":298},{"c":"b","s":28,"x":900,"y":300},{"c":"b","s":28,"x":912,"y":300},{"c":"b","s":28,"x":930,"y":302},{"c":"b","s":28,"x":947,"y":304},{"c":"b","s":28,"x":965,"y":308},{"c":"b","s":28,"x":987,"y":312},{"c":"b","s":28,"x":1003,"y":313},{"c":"b","s":28,"x":1020,"y":310},{"c":"b","s":28,"x":1041,"y":305},{"c":"b","s":28,"x":1060,"y":309},{"c":"b","s":28,"x":1081,"y":314},{"c":"b","s":28,"x":1100,"y":318},{"c":"b","s":28,"x":1113,"y":322},{"c":"b","s":28,"x":1125,"y":320},{"c":"b","s":28,"x":1134,"y":319},{"c":"b","s":28,"x":1160,"y":322},{"c":"b","s":28,"x":1180,"y":324},{"c":"b","s":28,"x":1197,"y":326},{"c":"b","s":28,"x":1225,"y":330},{"c":"b","s":28,"x":1250,"y":333},{"c":"b","s":28,"x":1270,"y":334},{"c":"b","s":28,"x":1281,"y":334},{"c":"b","s":28,"x":1290,"y":340},{"c":"b","s":28,"x":1300,"y":351},{"c":"b","s":28,"x":1306,"y":360},{"c":"b","s":28,"x":1312,"y":366},{"c":"b","s":28,"x":1318,"y":365},{"c":"b","s":28,"x":1322,"y":364},{"c":"b","s":28,"x":1327,"y":362},{"c":"b","s":28,"x":1331,"y":361},{"c":"b","s":28,"x":1335,"y":352},{"c":"b","s":28,"x":1338,"y":341},{"c":"b","s":28,"x":1342,"y":328},{"c":"b","s":28,"x":1347,"y":314},{"c":"b","s":28,"x":1353,"y":305},{"c":"b","s":28,"x":1359,"y":299},{"c":"b","s":28,"x":1370,"y":297},{"c":"b","s":28,"x":1384,"y":296},{"c":"b","s":28,"x":1400,"y":296},{"c":"b","s":28,"x":1420,"y":295},{"c":"b","s":28,"x":1440,"y":297},{"c":"b","s":28,"x":1460,"y":295},{"c":"b","s":28,"x":1480,"y":297},{"c":"b","s":28,"x":1500,"y":296},{"c":"b","s":28,"x":1520,"y":298},{"c":"b","s":28,"x":1540,"y":297},{"c":"b","s":28,"x":1560,"y":300},{"c":"b","s":28,"x":1580,"y":299},{"c":"b","s":28,"x":1600,"y":302},{"c":"b","s":28,"x":1620,"y":301},{"c":"b","s":28,"x":1640,"y":303},{"c":"b","s":28,"x":1660,"y":300},{"c":"b","s":28,"x":1680,"y":302},{"c":"b","s":28,"x":1700,"y":303},{"c":"b","s":28,"x":1720,"y":306},{"c":"b","s":28,"x":1740,"y":305},{"c":"b","s":28,"x":1760,"y":308},{"c":"b","s":28,"x":1780,"y":307},{"c":"b","s":28,"x":1800,"y":310},{"c":"b","s":28,"x":1820,"y":311},{"c":"b","s":28,"x":1840,"y":313},{"c":"b","s":28,"x":1860,"y":314},{"c":"b","s":28,"x":1880,"y":317},{"c":"b","s":28,"x":1900,"y":316},{"c":"b","s":28,"x":1920,"y":320},{"c":"b","s":28,"x":1940,"y":319},{"c":"b","s":28,"x":1960,"y":322},{"c":"b","s":28,"x":1980,"y":321},{"c":"b","s":28,"x":2000,"y":324},{"c":"b","s":28,"x":2020,"y":324},{"c":"b","s":28,"x":2040,"y":326},{"c":"b","s":28,"x":2060,"y":325},{"c":"b","s":28,"x":2080,"y":328},{"c":"b","s":28,"x":2100,"y":327},{"c":"b","s":28,"x":2120,"y":330},{"c":"b","s":28,"x":2140,"y":329},{"c":"b","s":28,"x":2160,"y":332},{"c":"b","s":28,"x":2180,"y":331},{"c":"b","s":28,"x":2200,"y":333},
{"c":"b","s":29,"x":400,"y":168},{"c":"b","s":29,"x":425,"y":166},{"c":"b","s":29,"x":450,"y":166},{"c":"b","s":29,"x":475,"y":164},{"c":"b","s":29,"x":503,"y":164},{"c":"b","s":29,"x":530,"y":165},{"c":"b","s":29,"x":560,"y":163},{"c":"b","s":29,"x":590,"y":164},{"c":"b","s":29,"x":619,"y":163},{"c":"b","s":29,"x":650,"y":164},{"c":"b","s":29,"x":680,"y":164},{"c":"b","s":29,"x":710,"y":163},{"c":"b","s":29,"x":737,"y":164},{"c":"b","s":29,"x":765,"y":163},{"c":"b","s":29,"x":797,"y":162},{"c":"b","s":29,"x":825,"y":160},{"c":"b","s":29,"x":853,"y":161},{"c":"b","s":29,"x":870,"y":162},{"c":"b","s":29,"x":890,"y":164},{"c":"b","s":29,"x":912,"y":166},{"c":"b","s":29,"x":940,"y":170},{"c":"b","s":29,"x":972,"y":174},{"c":"b","s":29,"x":990,"y":176},{"c":"b","s":29,"x":1003,"y":176},{"c":"b","s":29,"x":1020,"y":173},{"c":"b","s":29,"x":1035,"y":170},{"c":"b","s":29,"x":1046,"y":169},{"c":"b","s":29,"x":1060,"y":173},{"c":"b","s":29,"x":1075,"y":178},{"c":"b","s":29,"x":1091,"y":181},{"c":"b","s":29,"x":1105,"y":183},{"c":"b","s":29,"x":1116,"y":184},{"c":"b","s":29,"x":1130,"y":182},{"c":"b","s":29,"x":1147,"y":182},{"c":"b","s":29,"x":1175,"y":186},{"c":"b","s":29,"x":1206,"y":189},{"c":"b","s":29,"x":1235,"y":191},{"c":"b","s":29,"x":1266,"y":194},{"c":"b","s":29,"x":1280,"y":197},{"c":"b","s":29,"x":1290,"y":203},{"c":"b","s":29,"x":1300,"y":208},{"c":"b","s":29,"x":1313,"y":214},{"c":"b","s":29,"x":1320,"y":212},{"c":"b","s":29,"x":1325,"y":209},{"c":"b","s":29,"x":1330,"y":206},{"c":"b","s":29,"x":1334,"y":204},{"c":"b","s":29,"x":1340,"y":193},{"c":"b","s":29,"x":1347,"y":181},{"c":"b","s":29,"x":1354,"y":168},{"c":"b","s":29,"x":1361,"y":159},{"c":"b","s":29,"x":1373,"y":157},{"c":"b","s":29,"x":1385,"y":156},{"c":"b","s":29,"x":1400,"y":158},{"c":"b","s":29,"x":1420,"y":156},{"c":"b","s":29,"x":1440,"y":159},{"c":"b","s":29,"x":1460,"y":157},{"c":"b","s":29,"x":1480,"y":159},{"c":"b","s":29,"x":1500,"y":157},{"c":"b","s":29,"x":1520,"y":160},{"c":"b","s":29,"x":1540,"y":158},{"c":"b","s":29,"x":1560,"y":160},{"c":"b","s":29,"x":1580,"y":159},{"c":"b","s":29,"x":1600,"y":162},{"c":"b","s":29,"x":1620,"y":161},{"c":"b","s":29,"x":1640,"y":163},{"c":"b","s":29,"x":1660,"y":160},{"c":"b","s":29,"x":1680,"y":161},{"c":"b","s":29,"x":1700,"y":159},{"c":"b","s":29,"x":1720,"y":162},{"c":"b","s":29,"x":1740,"y":160},{"c":"b","s":29,"x":1760,"y":162},{"c":"b","s":29,"x":1780,"y":160},{"c":"b","s":29,"x":1800,"y":163},{"c":"b","s":29,"x":1820,"y":161},{"c":"b","s":29,"x":1840,"y":163},{"c":"b","s":29,"x":1860,"y":161},{"c":"b","s":29,"x":1880,"y":163},{"c":"b","s":29,"x":1900,"y":162},{"c":"b","s":29,"x":1920,"y":164},{"c":"b","s":29,"x":1940,"y":162},{"c":"b","s":29,"x":1960,"y":164},{"c":"b","s":29,"x":1980,"y":162},{"c":"b","s":29,"x":2000,"y":164},{"c":"b","s":29,"x":2020,"y":162},{"c":"b","s":29,"x":2040,"y":165},{"c":"b","s":29,"x":2060,"y":163},{"c":"b","s":29,"x":2080,"y":164},{"c":"b","s":29,"x":2100,"y":162},{"c":"b","s":29,"x":2120,"y":165},{"c":"b","s":29,"x":2140,"y":163},{"c":"b","s":29,"x":2160,"y":164},{"c":"b","s":29,"x":2180,"y":162},{"c":"b","s":29,"x":2200,"y":164},
{"c":"b","s":30,"x":400,"y":39},{"c":"b","s":30,"x":425,"y":37},{"c":"b","s":30,"x":450,"y":36},{"c":"b","s":30,"x":475,"y":35},{"c":"b","s":30,"x":503,"y":33},{"c":"b","s":30,"x":530,"y":34},{"c":"b","s":30,"x":560,"y":33},{"c":"b","s":30,"x":590,"y":34},{"c":"b","s":30,"x":619,"y":33},{"c":"b","s":30,"x":650,"y":34},{"c":"b","s":30,"x":680,"y":33},{"c":"b","s":30,"x":710,"y":34},{"c":"b","s":30,"x":737,"y":34},{"c":"b","s":30,"x":765,"y":32},{"c":"b","s":30,"x":797,"y":31},{"c":"b","s":30,"x":825,"y":30},{"c":"b","s":30,"x":853,"y":30},{"c":"b","s":30,"x":875,"y":32},{"c":"b","s":30,"x":895,"y":34},{"c":"b","s":30,"x":912,"y":36},{"c":"b","s":30,"x":940,"y":39},{"c":"b","s":30,"x":972,"y":43},{"c":"b","s":30,"x":990,"y":44},{"c":"b","s":30,"x":1003,"y":44},{"c":"b","s":30,"x":1020,"y":43},{"c":"b","s":30,"x":1040,"y":41},{"c":"b","s":30,"x":1056,"y":41},{"c":"b","s":30,"x":1075,"y":46},{"c":"b","s":30,"x":1091,"y":51},{"c":"b","s":30,"x":1103,"y":54},{"c":"b","s":30,"x":1115,"y":57},{"c":"b","s":30,"x":1127,"y":58},{"c":"b","s":30,"x":1137,"y":55},{"c":"b","s":30,"x":1147,"y":51},{"c":"b","s":30,"x":1170,"y":55},{"c":"b","s":30,"x":1190,"y":57},{"c":"b","s":30,"x":1206,"y":58},{"c":"b","s":30,"x":1235,"y":60},{"c":"b","s":30,"x":1266,"y":63},{"c":"b","s":30,"x":1285,"y":66},{"c":"b","s":30,"x":1302,"y":72},{"c":"b","s":30,"x":1312,"y":71},{"c":"b","s":30,"x":1319,"y":69},{"c":"b","s":30,"x":1325,"y":72},{"c":"b","s":30,"x":1331,"y":79},{"c":"b","s":30,"x":1336,"y":84},{"c":"b","s":30,"x":1340,"y":70},{"c":"b","s":30,"x":1343,"y":51},{"c":"b","s":30,"x":1347,"y":40},{"c":"b","s":30,"x":1352,"y":31},{"c":"b","s":30,"x":1361,"y":28},{"c":"b","s":30,"x":1380,"y":26},{"c":"b","s":30,"x":1400,"y":25},{"c":"b","s":30,"x":1420,"y":27},{"c":"b","s":30,"x":1440,"y":25},{"c":"b","s":30,"x":1460,"y":27},{"c":"b","s":30,"x":1480,"y":26},{"c":"b","s":30,"x":1500,"y":27},{"c":"b","s":30,"x":1520,"y":26},{"c":"b","s":30,"x":1540,"y":28},{"c":"b","s":30,"x":1560,"y":28},{"c":"b","s":30,"x":1580,"y":31},{"c":"b","s":30,"x":1600,"y":33},{"c":"b","s":30,"x":1620,"y":32},{"c":"b","s":30,"x":1640,"y":31},{"c":"b","s":30,"x":1660,"y":29},{"c":"b","s":30,"x":1680,"y":27},{"c":"b","s":30,"x":1700,"y":28},{"c":"b","s":30,"x":1720,"y":27},{"c":"b","s":30,"x":1740,"y":29},{"c":"b","s":30,"x":1760,"y":27},{"c":"b","s":30,"x":1780,"y":29},{"c":"b","s":30,"x":1800,"y":28},{"c":"b","s":30,"x":1820,"y":30},{"c":"b","s":30,"x":1840,"y":28},{"c":"b","s":30,"x":1860,"y":29},{"c":"b","s":30,"x":1880,"y":27},{"c":"b","s":30,"x":1900,"y":29},{"c":"b","s":30,"x":1920,"y":28},{"c":"b","s":30,"x":1940,"y":30},{"c":"b","s":30,"x":1960,"y":28},{"c":"b","s":30,"x":1980,"y":29},{"c":"b","s":30,"x":2000,"y":27},{"c":"b","s":30,"x":2020,"y":29},{"c":"b","s":30,"x":2040,"y":28},{"c":"b","s":30,"x":2060,"y":30},{"c":"b","s":30,"x":2080,"y":28},{"c":"b","s":30,"x":2100,"y":29},{"c":"b","s":30,"x":2120,"y":27},{"c":"b","s":30,"x":2140,"y":29},{"c":"b","s":30,"x":2160,"y":28},{"c":"b","s":30,"x":2180,"y":29},{"c":"b","s":30,"x":2200,"y":28}
]
},
"hconcat": [
{
 "width": 576, "height": 460,
 "resolve": {"axis": {"x": "independent", "y": "independent"}},
 "layer": [
  {"data": {"values": [{"y":131},{"y":262}]}, "mark": {"type":"rule","color":"#c4c4c4","strokeWidth":1.6,"strokeDash":[6,4]},
   "encoding": {"y": {"field":"y","type":"quantitative","scale":{"domain":[0,460]},"axis":null}}},
  {"data": {"name":"specA"}, "mark": {"type":"line","strokeWidth":1.8},
   "encoding": {
    "x": {"field":"x","type":"quantitative","scale":{"domain":[1000,2200]},"axis":{"orient":"bottom","values":[1000,1200,1400,1600,1800,2000,2200],"format":"d","title":"Raman shift (cm⁻¹)","labelPadding":6,"titlePadding":22}},
    "y": {"field":"y","type":"quantitative","scale":{"domain":[0,460]},"axis":{"orient":"left","values":[0,54.6,109.2,163.8,218.4,273,327.6,382.2,436.8],"labels":false,"title":"PL intensity (a.u.)","titlePadding":28}},
    "color": {"field":"c","type":"nominal","scale":{"domain":["k","r","b"],"range":["#1a1a1a","#e3242b","#3b7dbf"]},"legend":null},
    "detail": {"field":"s"}}},
  {"data": {"values": [{"x":1331}]}, "mark": {"type":"rule","color":"#3a3a3a","strokeWidth":1.6,"strokeDash":[6,3]},
   "encoding": {"x": {"field":"x","type":"quantitative","scale":{"domain":[1000,2200]},"axis":{"orient":"top","values":[1000,1200,1400,1600,1800,2000,2200],"title":"Wavelength (nm)","labelExpr":"format(1e7/(1e7/473 - datum.value), '.1f')","labelPadding":16,"titlePadding":12}}}},
  {"data": {"values": [{"x":1360,"y":361,"y2":393},{"x":1580,"y":328,"y2":348},{"x":1631,"y":334,"y2":365},{"x":1744,"y":328,"y2":359},{"x":1360,"y":208,"y2":240},{"x":1631,"y":191,"y2":224},{"x":1744,"y":185,"y2":218},{"x":1360,"y":77,"y2":109},{"x":1631,"y":71,"y2":104},{"x":1744,"y":71,"y2":104}]},
   "mark": {"type":"rule","color":"#111111","strokeWidth":2},
   "encoding": {"x": {"field":"x","type":"quantitative","scale":{"domain":[1000,2200]},"axis":null},"y": {"field":"y","type":"quantitative","scale":{"domain":[0,460]},"axis":null},"y2":{"field":"y2"}}},
  {"data": {"values": [{"x":1631,"y":377,"t":"1631"},{"x":1744,"y":371,"t":"1744"}]},
   "mark": {"type":"text","fontSize":17,"align":"center","baseline":"middle","color":"#111111"},
   "encoding": {"x": {"field":"x","type":"quantitative","scale":{"domain":[1000,2200]},"axis":null},"y": {"field":"y","type":"quantitative","scale":{"domain":[0,460]},"axis":null},"text":{"field":"t"}}},
  {"data": {"values": [{"x":1360,"y":404,"t":"1360"}]},
   "mark": {"type":"text","fontSize":17,"align":"left","baseline":"middle","color":"#111111"},
   "encoding": {"x": {"field":"x","type":"quantitative","scale":{"domain":[1000,2200]},"axis":null},"y": {"field":"y","type":"quantitative","scale":{"domain":[0,460]},"axis":null},"text":{"field":"t"}}},
  {"data": {"values": [{"x":1582,"y":361,"t":"1580"}]},
   "mark": {"type":"text","fontSize":17,"align":"right","baseline":"middle","color":"#111111"},
   "encoding": {"x": {"field":"x","type":"quantitative","scale":{"domain":[1000,2200]},"axis":null},"y": {"field":"y","type":"quantitative","scale":{"domain":[0,460]},"axis":null},"text":{"field":"t"}}},
  {"data": {"values": [{"x":1021,"y":265,"t":"28 µm"},{"x":1021,"y":134,"t":"29 µm"},{"x":1021,"y":4,"t":"30 µm"}]},
   "mark": {"type":"text","fontSize":19,"align":"left","baseline":"alphabetic","color":"#111111"},
   "encoding": {"x": {"field":"x","type":"quantitative","scale":{"domain":[1000,2200]},"axis":null},"y": {"field":"y","type":"quantitative","scale":{"domain":[0,460]},"axis":null},"text":{"field":"t"}}},
  {"data": {"values": [{"x":2188,"y":265,"t":"1.5 keV/nm"},{"x":2188,"y":134,"t":"2.4 keV/nm"},{"x":2188,"y":4,"t":"5.5 keV/nm"}]},
   "mark": {"type":"text","fontSize":19,"align":"right","baseline":"alphabetic","color":"#111111"},
   "encoding": {"x": {"field":"x","type":"quantitative","scale":{"domain":[1000,2200]},"axis":null},"y": {"field":"y","type":"quantitative","scale":{"domain":[0,460]},"axis":null},"text":{"field":"t"}}},
  {"data": {"values": [{"x":1879,"x2":2181,"y":303,"y2":450}]},
   "mark": {"type":"rect","fill":"white","stroke":"#111111","strokeWidth":1.3},
   "encoding": {"x": {"field":"x","type":"quantitative","scale":{"domain":[1000,2200]},"axis":null},"x2":{"field":"x2"},"y": {"field":"y","type":"quantitative","scale":{"domain":[0,460]},"axis":null},"y2":{"field":"y2"}}},
  {"data": {"values": [{"c":"k","x":1912,"x2":1996,"y":377},{"c":"r","x":1912,"x2":1996,"y":349},{"c":"b","x":1912,"x2":1996,"y":321}]},
   "mark": {"type":"rule","strokeWidth":2},
   "encoding": {"x": {"field":"x","type":"quantitative","scale":{"domain":[1000,2200]},"axis":null},"x2":{"field":"x2"},"y": {"field":"y","type":"quantitative","scale":{"domain":[0,460]},"axis":null},
    "color": {"field":"c","type":"nominal","scale":{"domain":["k","r","b"],"range":["#1a1a1a","#e3242b","#3b7dbf"]},"legend":null}}},
  {"data": {"values": [{"x":1898,"y":431,"t":"λ"},{"x":1976,"y":431,"t":"= 473 nm"},{"x":1898,"y":406,"t":"Fluence (cm⁻²):"},{"x":2015,"y":377,"t":"7×10¹²"},{"x":2015,"y":349,"t":"1×10¹³"},{"x":2015,"y":321,"t":"2×10¹³"}]},
   "mark": {"type":"text","fontSize":17.5,"align":"left","baseline":"middle","color":"#111111"},
   "encoding": {"x": {"field":"x","type":"quantitative","scale":{"domain":[1000,2200]},"axis":null},"y": {"field":"y","type":"quantitative","scale":{"domain":[0,460]},"axis":null},"text":{"field":"t"}}},
  {"data": {"values": [{"x":1921,"y":431,"t":"exc"}]},
   "mark": {"type":"text","fontSize":12,"align":"left","baseline":"middle","dy":4,"color":"#111111"},
   "encoding": {"x": {"field":"x","type":"quantitative","scale":{"domain":[1000,2200]},"axis":null},"y": {"field":"y","type":"quantitative","scale":{"domain":[0,460]},"axis":null},"text":{"field":"t"}}},
  {"data": {"values": [{"x":1015,"y":526,"t":"a"}]},
   "mark": {"type":"text","fontSize":22,"fontWeight":"bold","align":"center","baseline":"middle","color":"#111111"},
   "encoding": {"x": {"field":"x","type":"quantitative","scale":{"domain":[1000,2200]},"axis":null},"y": {"field":"y","type":"quantitative","scale":{"domain":[0,460]},"axis":null},"text":{"field":"t"}}}
 ]
},
{
 "width": 576, "height": 460,
 "resolve": {"axis": {"x": "independent", "y": "independent"}},
 "layer": [
  {"data": {"values": [{"y":131},{"y":262}]}, "mark": {"type":"rule","color":"#c4c4c4","strokeWidth":1.6,"strokeDash":[6,4]},
   "encoding": {"y": {"field":"y","type":"quantitative","scale":{"domain":[0,460]},"axis":null}}},
  {"data": {"name":"specB"}, "mark": {"type":"line","strokeWidth":2},
   "encoding": {
    "x": {"field":"x","type":"quantitative","scale":{"domain":[400,2200]},"axis":{"orient":"bottom","values":[500,750,1000,1250,1500,1750,2000],"format":"d","title":"Raman shift (cm⁻¹)","labelPadding":6,"titlePadding":22}},
    "y": {"field":"y","type":"quantitative","scale":{"domain":[0,460]},"axis":{"orient":"left","values":[0,87.4,174.8,262.2,349.6,437],"labels":false,"title":null}},
    "color": {"field":"c","type":"nominal","scale":{"domain":["k","r","b"],"range":["#1a1a1a","#e3242b","#3b7dbf"]},"legend":null},
    "detail": {"field":"s"}}},
  {"data": {"values": [{"x":1332}]}, "mark": {"type":"rule","color":"#3a3a3a","strokeWidth":1.6,"strokeDash":[6,3]},
   "encoding": {"x": {"field":"x","type":"quantitative","scale":{"domain":[400,2200]},"axis":{"orient":"top","values":[500,750,1000,1250,1500,1750,2000],"title":"Wavelength (nm)","labelExpr":"format(1e7/(1e7/632.8 - datum.value), '.1f')","labelPadding":16,"titlePadding":12}}}},
  {"data": {"values": [{"x":1000,"y":324,"y2":348},{"x":1100,"y":337,"y2":363},{"x":1360,"y":328,"y2":370},{"x":1580,"y":324,"y2":340},{"x":1631,"y":328,"y2":358},{"x":1744,"y":328,"y2":341},{"x":1000,"y":184,"y2":209},{"x":1100,"y":201,"y2":226},{"x":1360,"y":174,"y2":218},{"x":1580,"y":170,"y2":188},{"x":1631,"y":175,"y2":204},{"x":1744,"y":175,"y2":188},{"x":1000,"y":53,"y2":78},{"x":1100,"y":70,"y2":95},{"x":1360,"y":44,"y2":88},{"x":1580,"y":39,"y2":56},{"x":1631,"y":44,"y2":74},{"x":1744,"y":44,"y2":56}]},
   "mark": {"type":"rule","color":"#111111","strokeWidth":2},
   "encoding": {"x": {"field":"x","type":"quantitative","scale":{"domain":[400,2200]},"axis":null},"y": {"field":"y","type":"quantitative","scale":{"domain":[0,460]},"axis":null},"y2":{"field":"y2"}}},
  {"data": {"values": [{"x":1000,"y":359,"t":"1000"},{"x":1100,"y":382,"t":"1100"},{"x":1631,"y":375,"t":"1631"},{"x":1744,"y":355,"t":"1744"}]},
   "mark": {"type":"text","fontSize":17,"align":"center","baseline":"middle","color":"#111111"},
   "encoding": {"x": {"field":"x","type":"quantitative","scale":{"domain":[400,2200]},"axis":null},"y": {"field":"y","type":"quantitative","scale":{"domain":[0,460]},"axis":null},"text":{"field":"t"}}},
  {"data": {"values": [{"x":1360,"y":388,"t":"1360"}]},
   "mark": {"type":"text","fontSize":17,"align":"left","baseline":"middle","color":"#111111"},
   "encoding": {"x": {"field":"x","type":"quantitative","scale":{"domain":[400,2200]},"axis":null},"y": {"field":"y","type":"quantitative","scale":{"domain":[0,460]},"axis":null},"text":{"field":"t"}}},
  {"data": {"values": [{"x":1582,"y":355,"t":"1580"}]},
   "mark": {"type":"text","fontSize":17,"align":"right","baseline":"middle","color":"#111111"},
   "encoding": {"x": {"field":"x","type":"quantitative","scale":{"domain":[400,2200]},"axis":null},"y": {"field":"y","type":"quantitative","scale":{"domain":[0,460]},"axis":null},"text":{"field":"t"}}},
  {"data": {"values": [{"x":422,"y":265,"t":"28 µm"},{"x":422,"y":135,"t":"29 µm"},{"x":422,"y":41,"t":"30 µm"}]},
   "mark": {"type":"text","fontSize":19,"align":"left","baseline":"alphabetic","color":"#111111"},
   "encoding": {"x": {"field":"x","type":"quantitative","scale":{"domain":[400,2200]},"axis":null},"y": {"field":"y","type":"quantitative","scale":{"domain":[0,460]},"axis":null},"text":{"field":"t"}}},
  {"data": {"values": [{"x":2178,"y":265,"t":"1.5 keV/nm"},{"x":2178,"y":135,"t":"2.4 keV/nm"},{"x":2178,"y":41,"t":"5.5 keV/nm"}]},
   "mark": {"type":"text","fontSize":19,"align":"right","baseline":"alphabetic","color":"#111111"},
   "encoding": {"x": {"field":"x","type":"quantitative","scale":{"domain":[400,2200]},"axis":null},"y": {"field":"y","type":"quantitative","scale":{"domain":[0,460]},"axis":null},"text":{"field":"t"}}},
  {"data": {"values": [{"x":416,"x2":906,"y":333,"y2":450}]},
   "mark": {"type":"rect","fill":"white","stroke":"#111111","strokeWidth":1.3},
   "encoding": {"x": {"field":"x","type":"quantitative","scale":{"domain":[400,2200]},"axis":null},"x2":{"field":"x2"},"y": {"field":"y","type":"quantitative","scale":{"domain":[0,460]},"axis":null},"y2":{"field":"y2"}}},
  {"data": {"values": [{"c":"r","x":478,"x2":603,"y":377},{"c":"b","x":478,"x2":603,"y":349}]},
   "mark": {"type":"rule","strokeWidth":2},
   "encoding": {"x": {"field":"x","type":"quantitative","scale":{"domain":[400,2200]},"axis":null},"x2":{"field":"x2"},"y": {"field":"y","type":"quantitative","scale":{"domain":[0,460]},"axis":null},
    "color": {"field":"c","type":"nominal","scale":{"domain":["k","r","b"],"range":["#1a1a1a","#e3242b","#3b7dbf"]},"legend":null}}},
  {"data": {"values": [{"x":453,"y":431,"t":"λ"},{"x":565,"y":431,"t":"= 633 nm"},{"x":453,"y":407,"t":"Fluence (cm⁻²):"},{"x":625,"y":377,"t":"1×10¹³"},{"x":625,"y":349,"t":"2×10¹³"}]},
   "mark": {"type":"text","fontSize":17.5,"align":"left","baseline":"middle","color":"#111111"},
   "encoding": {"x": {"field":"x","type":"quantitative","scale":{"domain":[400,2200]},"axis":null},"y": {"field":"y","type":"quantitative","scale":{"domain":[0,460]},"axis":null},"text":{"field":"t"}}},
  {"data": {"values": [{"x":487,"y":431,"t":"exc"}]},
   "mark": {"type":"text","fontSize":12,"align":"left","baseline":"middle","dy":4,"color":"#111111"},
   "encoding": {"x": {"field":"x","type":"quantitative","scale":{"domain":[400,2200]},"axis":null},"y": {"field":"y","type":"quantitative","scale":{"domain":[0,460]},"axis":null},"text":{"field":"t"}}},
  {"data": {"values": [{"x":422,"y":526,"t":"b"}]},
   "mark": {"type":"text","fontSize":22,"fontWeight":"bold","align":"center","baseline":"middle","color":"#111111"},
   "encoding": {"x": {"field":"x","type":"quantitative","scale":{"domain":[400,2200]},"axis":null},"y": {"field":"y","type":"quantitative","scale":{"domain":[0,460]},"axis":null},"text":{"field":"t"}}}
 ]
}
]
}
